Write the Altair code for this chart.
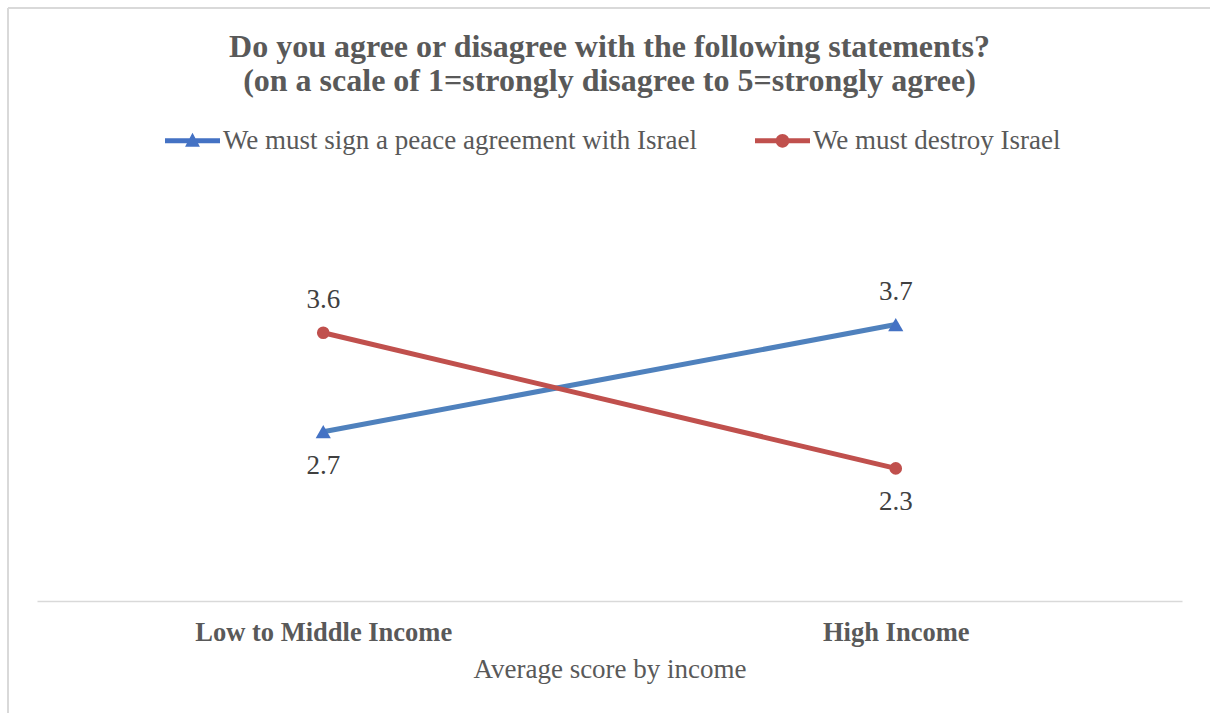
import altair as alt
import pandas as pd

# ---- data ----
incomes = ["Low to Middle Income", "High Income"]
series = ["We must sign a peace agreement with Israel", "We must destroy Israel"]
peace_values = [2.66, 3.71]
destroy_values = [3.63, 2.30]

line_colors = ["#4F81BD", "#C0504D"]
marker_colors = ["#4472C4", "#C0504D"]

rows = []
for inc, v in zip(incomes, peace_values):
    rows.append({"income": inc, "series": series[0], "value": v})
for inc, v in zip(incomes, destroy_values):
    rows.append({"income": inc, "series": series[1], "value": v})
df = pd.DataFrame(rows)

FONT = "Liberation Serif"
GREY = "#595959"

# legend symbols: thick line with a marker on it (unit square paths)
tri_path = ("M-1,-0.09 L1,-0.09 L1,0.09 L-1,0.09 Z "
            "M-0.27,0.22 L0,-0.29 L0.27,0.22 Z")
circ_path = ("M-1,-0.09 L1,-0.09 L1,0.09 L-1,0.09 Z "
             "M-0.25,0 A0.25,0.25 0 1,1 0.25,0 A0.25,0.25 0 1,1 -0.25,0 Z")

x_enc = alt.X(
    "income:N",
    sort=incomes,
    scale=alt.Scale(type="point", padding=0.5),
    axis=alt.Axis(
        title="Average score by income",
        labelAngle=0,
        labelFont=FONT,
        labelFontSize=26.5,
        labelFontWeight="bold",
        labelColor=GREY,
        labelPadding=18,
        labelLimit=500,
        ticks=False,
        domainColor="#D9D9D9",
        domainWidth=1.5,
        grid=False,
        titleFont=FONT,
        titleFontSize=27,
        titleFontWeight="normal",
        titleColor=GREY,
        titlePadding=11,
    ),
)
y_enc = alt.Y("value:Q", scale=alt.Scale(domain=[1, 5]), axis=None)

base = alt.Chart(df)

# (the scales of the drawn marks list the series in reverse order so that
#  their legend-less scales are not merged with the legend's scales)
rev_series = series[::-1]

lines = base.mark_line(strokeWidth=5).encode(
    x=x_enc,
    y=y_enc,
    stroke=alt.Stroke("series:N", scale=alt.Scale(domain=rev_series, range=line_colors[::-1]),
                      legend=None),
    detail="series:N",
)

fill_enc = alt.Fill("series:N", scale=alt.Scale(domain=rev_series, range=marker_colors[::-1]),
                    legend=None)
tri_points = base.transform_filter(alt.datum.series == series[0]).mark_point(
    filled=True, opacity=1, shape="triangle-up", size=230
).encode(x=x_enc, y=y_enc, fill=fill_enc)
circ_points = base.transform_filter(alt.datum.series == series[1]).mark_point(
    filled=True, opacity=1, shape="circle", size=160
).encode(x=x_enc, y=y_enc, fill=fill_enc)

label_base = base.transform_joinaggregate(maxv="max(value)", groupby=["income"])
labels_above = label_base.transform_filter("datum.value == datum.maxv").mark_text(
    dy=-33, font=FONT, fontSize=27, color="#404040", baseline="middle"
).encode(x=x_enc, y=y_enc, text=alt.Text("value:Q", format=".1f"))
labels_below = label_base.transform_filter("datum.value < datum.maxv").mark_text(
    dy=34, font=FONT, fontSize=27, color="#404040", baseline="middle"
).encode(x=x_enc, y=y_enc, text=alt.Text("value:Q", format=".1f"))

legend_props = dict(
    title=None,
    orient="none",
    legendX=128,
    legendY=-80,
    direction="horizontal",
    labelFont=FONT,
    labelFontSize=27,
    labelColor=GREY,
    labelOffset=3,
    labelLimit=1000,
    symbolSize=3025,
    symbolStrokeWidth=0,
    columnPadding=58,
)
legend_layer = base.transform_filter("false").mark_point(filled=True, opacity=1).encode(
    color=alt.Color("series:N", scale=alt.Scale(domain=series, range=marker_colors),
                    legend=alt.Legend(**legend_props)),
    shape=alt.Shape("series:N", scale=alt.Scale(domain=series, range=[tri_path, circ_path]),
                    legend=alt.Legend(**legend_props)),
)

border_top = alt.Chart(df).mark_rule(color="#D9D9D9", strokeWidth=1.5).encode(
    x=alt.value(-29), x2=alt.value(1180), y=alt.value(-185)
)
border_left = alt.Chart(df).mark_rule(color="#D9D9D9", strokeWidth=1.5).encode(
    x=alt.value(-29), y=alt.value(-185), y2=alt.value(530)
)

chart = (
    alt.layer(border_top, border_left, lines, tri_points, circ_points,
              labels_above, labels_below, legend_layer)
    .properties(
        width=1145,
        height=408,
        title=alt.TitleParams(
            text=["Do you agree or disagree with the following statements?",
                  "(on a scale of 1=strongly disagree to 5=strongly agree)"],
            font=FONT,
            fontSize=32,
            fontWeight="bold",
            color=GREY,
            lineHeight=34,
            anchor="middle",
            frame="group",
            offset=-91,
        ),
        autosize=alt.AutoSizeParams(type="none"),
        padding={"left": 37, "top": 193, "right": 28, "bottom": 112},
        background="white",
    )
    .configure_view(stroke=None)
)

chart.save("out.html", embed_options={"renderer": "svg", "actions": False})
